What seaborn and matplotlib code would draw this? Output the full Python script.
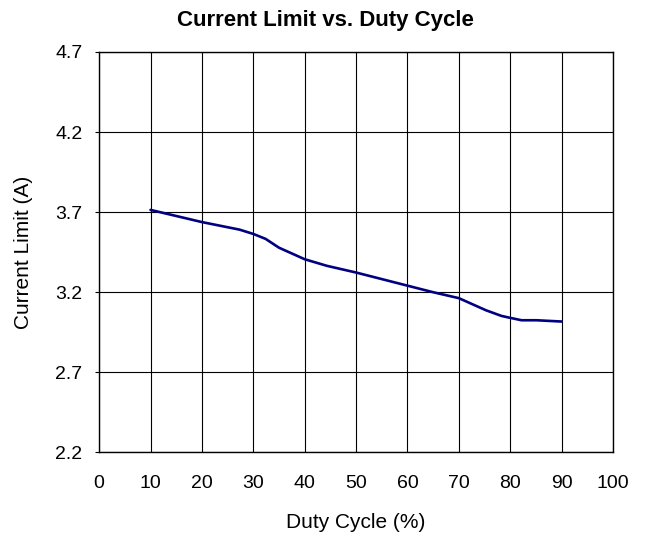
import matplotlib
matplotlib.use("Agg")
import matplotlib.pyplot as plt
import seaborn as sns
import pandas as pd

# values
duty_cycle = [10, 20, 27.3, 30, 32.4, 35, 40, 44.3, 50, 60, 65, 70, 75.3, 78.3, 80, 82.2, 85.1, 90]
current_limit = [3.714, 3.638, 3.591, 3.564, 3.533, 3.478, 3.406, 3.365, 3.323, 3.241, 3.2,
                 3.163, 3.087, 3.052, 3.040, 3.025, 3.025, 3.017]
x_ticks = [0, 10, 20, 30, 40, 50, 60, 70, 80, 90, 100]
y_ticks = [2.2, 2.7, 3.2, 3.7, 4.2, 4.7]

df = pd.DataFrame({"duty": duty_cycle, "current": current_limit})

sns.set_style("white")
plt.rcParams["font.family"] = ["Liberation Sans", "DejaVu Sans"]
plt.rcParams["text.color"] = "black"
plt.rcParams["axes.labelcolor"] = "black"
plt.rcParams["xtick.color"] = "black"
plt.rcParams["ytick.color"] = "black"

fig = plt.figure(figsize=(6.48, 5.36), dpi=100)
ax = fig.add_axes([0.153, 0.156, 0.793, 0.747])

sns.lineplot(data=df, x="duty", y="current", color="#000080", linewidth=1.9, ax=ax)

ax.set_xlim(0, 100)
ax.set_ylim(2.2, 4.7)
ax.set_xticks(x_ticks)
ax.set_yticks(y_ticks)
ax.set_yticklabels([f"{v:.1f}" for v in y_ticks])
ax.grid(True, color="black", linewidth=0.8)
ax.tick_params(axis="both", labelsize=14, length=3, width=0.8, color="black", pad=9,
               bottom=False, left=True)
ax.tick_params(axis="x", pad=13)
for s in ax.spines.values():
    s.set_color("black")
    s.set_linewidth(1.0)

# title is centred on the figure in the reference
fig.suptitle("Current Limit vs. Duty Cycle", fontsize=16, fontweight="bold",
             x=0.502, y=0.961, va="center")
ax.set_xlabel("Duty Cycle (%)", fontsize=15)
ax.set_ylabel("Current Limit (A)", fontsize=15)
ax.xaxis.set_label_coords(0.5, -0.174)
ax.yaxis.set_label_coords(-0.148, 0.5)
ax.xaxis.label.set_va("center")
ax.yaxis.label.set_va("center")

fig.savefig("out.png", dpi=100)
